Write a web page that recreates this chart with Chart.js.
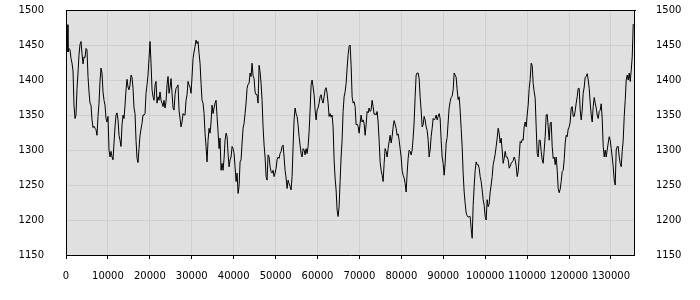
<!DOCTYPE html>
<html>
<head>
<meta charset="utf-8">
<script src="https://cdn.jsdelivr.net/npm/chart.js@4"></script>
<style>
  html, body { margin: 0; padding: 0; background: #fff; }
  #wrap { width: 700px; height: 300px; }
</style>
</head>
<body>
<div id="wrap"><canvas id="seriesChart" width="700" height="300"></canvas></div>
<script>
// samples are taken every ~239 units along x
var sampleStep = 238.65;
var xMax = 135500;

var values = [
    1467, 1479, 1440, 1445, 1443, 1431, 1424, 1413, 1364, 1345, 1350, 1388, 1410, 1436, 1451, 1455, 1438, 1423, 1433, 1432,
    1445, 1443, 1405, 1383, 1367, 1364, 1343, 1332, 1334, 1331, 1329, 1321, 1348, 1367, 1398, 1417, 1410, 1383, 1371, 1364,
    1345, 1340, 1348, 1300, 1290, 1298, 1290, 1286, 1310, 1333, 1350, 1353, 1343, 1321, 1314, 1305, 1336, 1350, 1345, 1364,
    1386, 1401, 1390, 1386, 1393, 1407, 1404, 1388, 1360, 1352, 1314, 1288, 1282, 1302, 1321, 1330, 1338, 1350, 1350, 1352,
    1381, 1393, 1407, 1431, 1455, 1424, 1386, 1376, 1371, 1393, 1398, 1367, 1376, 1371, 1383, 1371, 1367, 1362, 1371, 1360,
    1369, 1393, 1405, 1381, 1390, 1402, 1381, 1360, 1357, 1379, 1388, 1390, 1393, 1357, 1345, 1333, 1340, 1352, 1350, 1350,
    1371, 1379, 1398, 1393, 1390, 1381, 1405, 1431, 1440, 1448, 1457, 1452, 1455, 1438, 1424, 1395, 1371, 1367, 1352, 1324,
    1305, 1283, 1314, 1331, 1324, 1340, 1364, 1352, 1360, 1367, 1371, 1348, 1326, 1302, 1317, 1271, 1281, 1271, 1288, 1314,
    1324, 1319, 1295, 1276, 1286, 1290, 1305, 1302, 1295, 1276, 1255, 1267, 1238, 1248, 1283, 1286, 1310, 1331, 1338, 1352,
    1367, 1388, 1394, 1395, 1410, 1405, 1424, 1406, 1402, 1383, 1379, 1379, 1367, 1421, 1412, 1395, 1371, 1333, 1307, 1290,
    1262, 1257, 1293, 1290, 1276, 1269, 1267, 1271, 1262, 1267, 1274, 1286, 1290, 1288, 1295, 1298, 1305, 1307, 1290, 1271,
    1260, 1245, 1257, 1252, 1248, 1243, 1262, 1305, 1343, 1360, 1352, 1348, 1336, 1319, 1307, 1295, 1290, 1302, 1300, 1293,
    1302, 1295, 1305, 1326, 1357, 1393, 1400, 1390, 1379, 1357, 1343, 1357, 1360, 1367, 1376, 1379, 1371, 1367, 1376, 1386,
    1389, 1381, 1367, 1348, 1352, 1347, 1350, 1333, 1286, 1260, 1243, 1214, 1205, 1219, 1255, 1290, 1314, 1355, 1376, 1383,
    1395, 1417, 1436, 1448, 1450, 1421, 1376, 1367, 1369, 1362, 1336, 1337, 1334, 1324, 1338, 1350, 1340, 1343, 1338, 1321,
    1336, 1355, 1353, 1360, 1355, 1357, 1371, 1362, 1351, 1352, 1350, 1355, 1340, 1314, 1283, 1271, 1264, 1255, 1281, 1302,
    1298, 1290, 1302, 1312, 1321, 1310, 1319, 1333, 1342, 1337, 1331, 1321, 1323, 1314, 1302, 1290, 1271, 1264, 1260, 1252,
    1240, 1267, 1288, 1300, 1298, 1293, 1300, 1317, 1340, 1376, 1407, 1410, 1410, 1402, 1376, 1357, 1333, 1336, 1348, 1343,
    1333, 1328, 1314, 1290, 1300, 1319, 1331, 1345, 1343, 1345, 1350, 1343, 1348, 1352, 1345, 1314, 1290, 1281, 1264, 1281,
    1310, 1318, 1340, 1360, 1369, 1375, 1377, 1386, 1410, 1407, 1404, 1386, 1372, 1376, 1357, 1331, 1305, 1267, 1240, 1224,
    1210, 1206, 1204, 1205, 1205, 1188, 1174, 1221, 1248, 1271, 1283, 1279, 1279, 1274, 1262, 1255, 1243, 1229, 1221, 1205,
    1200, 1229, 1219, 1223, 1240, 1250, 1262, 1279, 1286, 1294, 1305, 1317, 1331, 1324, 1310, 1317, 1300, 1281, 1288, 1298,
    1290, 1290, 1286, 1274, 1277, 1281, 1283, 1285, 1290, 1286, 1277, 1262, 1269, 1290, 1312, 1310, 1315, 1314, 1333, 1340,
    1333, 1350, 1364, 1388, 1401, 1424, 1421, 1395, 1383, 1374, 1333, 1295, 1290, 1314, 1314, 1298, 1286, 1281, 1300, 1319,
    1350, 1351, 1333, 1314, 1338, 1340, 1305, 1288, 1290, 1279, 1290, 1271, 1245, 1239, 1244, 1255, 1269, 1271, 1286, 1310,
    1321, 1319, 1330, 1333, 1340, 1360, 1362, 1348, 1348, 1356, 1367, 1376, 1388, 1388, 1357, 1343, 1357, 1381, 1390, 1404,
    1405, 1409, 1400, 1388, 1367, 1350, 1340, 1362, 1375, 1367, 1360, 1350, 1345, 1355, 1357, 1366, 1345, 1305, 1290, 1300,
    1290, 1300, 1310, 1319, 1314, 1302, 1290, 1276, 1257, 1250, 1300, 1305, 1305, 1290, 1281, 1276, 1298, 1314, 1348, 1371,
    1400, 1407, 1400, 1410, 1398, 1414, 1433, 1480
];

var xTicks = [0, 10000, 20000, 30000, 40000, 50000, 60000, 70000, 80000, 90000, 100000, 110000, 120000, 130000];
var yTicks = [1150, 1200, 1250, 1300, 1350, 1400, 1450, 1500];

var positions = values.map(function (v, i) { return Math.round(i * sampleStep); });

function setTicks(list) {
    return function (scale) {
        scale.ticks = list.map(function (v) { return { value: v }; });
    };
}
function plainLabel(v) { return String(v); }

// fixed axis sizes, no extra room for overhanging labels
function fitY(s) {
    s.width = 66;
    s.paddingTop = 0;
    s.paddingBottom = 0;
}
function fitX(s) {
    s.height = 45;
    s.paddingLeft = 0;
    s.paddingRight = 0;
}

// grey plot area + top border
var plotFrame = {
    id: 'plotFrame',
    beforeDraw: function (chart) {
        var a = chart.chartArea, c = chart.ctx;
        c.save();
        c.fillStyle = '#e0e0e0';
        c.fillRect(a.left, a.top, a.right - a.left, a.bottom - a.top);
        c.restore();
    },
    afterDraw: function (chart) {
        var a = chart.chartArea, c = chart.ctx;
        c.save();
        c.strokeStyle = '#000';
        c.lineWidth = 1;
        c.beginPath();
        c.moveTo(a.left, Math.round(a.top) + 0.5);
        c.lineTo(a.right + 2, Math.round(a.top) + 0.5);
        c.stroke();
        c.restore();
    }
};

var tickFont = { family: 'DejaVu Sans', size: 10 };

var ctx = document.getElementById('seriesChart').getContext('2d');
var myChart = new Chart(ctx, {
    type: 'line',
    data: {
        labels: positions,
        datasets: [{
            data: values,
            borderColor: '#000',
            borderWidth: 1,
            pointRadius: 0,
            tension: 0,
            fill: false
        }]
    },
    options: {
        responsive: false,
        animation: false,
        events: [],
        layout: { padding: { top: 10, left: 0, right: 0, bottom: 0 } },
        plugins: {
            legend: { display: false },
            tooltip: { enabled: false }
        },
        scales: {
            x: {
                type: 'linear',
                min: 0,
                max: xMax,
                afterBuildTicks: setTicks(xTicks),
                ticks: {
                    maxRotation: 0,
                    autoSkip: false,
                    color: '#000',
                    font: tickFont,
                    padding: 11,
                    callback: plainLabel
                },
                grid: { color: '#cfcfcf', tickColor: '#000', tickLength: 4 },
                border: { color: '#000' },
                afterFit: fitX
            },
            y: {
                position: 'left',
                min: yTicks[0],
                max: yTicks[yTicks.length - 1],
                afterBuildTicks: setTicks(yTicks),
                ticks: { color: '#000', font: tickFont, padding: 22, callback: plainLabel },
                grid: { color: '#cfcfcf', drawTicks: false },
                border: { color: '#000' },
                afterFit: fitY
            },
            y2: {
                position: 'right',
                min: yTicks[0],
                max: yTicks[yTicks.length - 1],
                afterBuildTicks: setTicks(yTicks),
                ticks: { color: '#000', font: tickFont, padding: 22, callback: plainLabel },
                grid: { display: false, drawTicks: false },
                border: { color: '#000' },
                afterFit: fitY
            }
        }
    },
    plugins: [plotFrame]
});
</script>
</body>
</html>
